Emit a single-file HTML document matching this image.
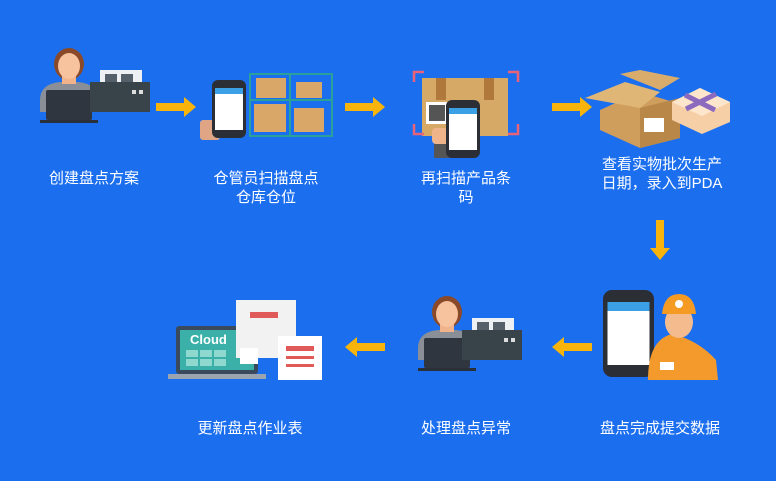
<!DOCTYPE html>
<html><head><meta charset="utf-8"><style>
html,body{margin:0;padding:0;}
body{width:776px;height:481px;background:#1b6fef;position:relative;overflow:hidden;font-family:"Liberation Sans","Noto Sans CJK SC",sans-serif;}
.t{position:absolute;color:#fff;font-size:15px;line-height:19px;text-align:center;width:160px;}
svg{position:absolute;left:0;top:0;}
</style></head><body>
<svg width="776" height="481" viewBox="0 0 776 481">
<defs>
<g id="person">
 <path d="M4 50 Q4 34 24 32 L42 32 Q62 34 62 50 L62 62 L4 62Z" fill="#8a8f97"/>
 <ellipse cx="33" cy="14" rx="15" ry="16" fill="#8a4a2a"/>
 <rect x="26" y="22" width="14" height="12" fill="#f1b38c"/>
 <ellipse cx="33" cy="16" rx="11" ry="13" fill="#f7c29e"/>
 <rect x="10" y="40" width="46" height="30" rx="2" fill="#2f3640"/>
 <rect x="4" y="70" width="58" height="3" fill="#2a3038"/>
</g>
<g id="printer">
 <rect x="10" y="0" width="42" height="22" fill="#eef1f4"/>
 <rect x="15" y="4" width="12" height="12" fill="#55606a"/><rect x="31" y="4" width="12" height="12" fill="#55606a"/>
 <rect x="0" y="12" width="60" height="30" fill="#39434a"/>
 <rect x="42" y="20" width="4" height="4" fill="#ddd"/><rect x="49" y="20" width="4" height="4" fill="#ddd"/>
</g>
<g id="arrowR"><rect x="0" y="-4" width="30" height="8" fill="#f8b40a"/><polygon points="28,-10 40,0 28,10" fill="#f8b40a"/></g>
<g id="arrowL"><rect x="10" y="-4" width="30" height="8" fill="#f8b40a"/><polygon points="12,-10 0,0 12,10" fill="#f8b40a"/></g>
<g id="phone">
 <rect x="0" y="0" width="34" height="58" rx="6" fill="#2b2f35"/>
 <rect x="3" y="8" width="28" height="42" fill="#fff"/>
 <rect x="3" y="8" width="28" height="6" fill="#3ba0e6"/>
</g>
</defs>
<!-- row1 item1 -->
<use href="#person" x="36" y="50"/>
<use href="#printer" x="90" y="70"/>
<!-- arrows row1 -->
<use href="#arrowR" x="156" y="107"/>
<use href="#arrowR" x="345" y="107"/>
<use href="#arrowR" x="552" y="107"/>
<!-- item2 -->
<g>
 <rect x="250" y="74" width="82" height="62" fill="none" stroke="#2aa09a" stroke-width="2"/>
 <line x1="290" y1="74" x2="290" y2="136" stroke="#2aa09a" stroke-width="2"/>
 <line x1="250" y1="100" x2="332" y2="100" stroke="#2aa09a" stroke-width="2"/>
 <rect x="256" y="78" width="30" height="20" fill="#d9a767"/><rect x="296" y="82" width="26" height="16" fill="#d9a767"/>
 <rect x="254" y="104" width="32" height="28" fill="#d9a767"/><rect x="294" y="108" width="30" height="24" fill="#d9a767"/>
 <rect x="200" y="120" width="20" height="20" rx="3" fill="#e0a585"/>
 <use href="#phone" x="212" y="80"/>
</g>
<!-- item3 -->
<g>
 <rect x="422" y="78" width="86" height="58" fill="#d7a967"/>
 <rect x="436" y="78" width="10" height="22" fill="#b0793b"/><rect x="484" y="78" width="10" height="22" fill="#b0793b"/>
 <rect x="426" y="102" width="22" height="22" fill="#fff"/><rect x="429" y="105" width="16" height="16" fill="#555"/>
 <path d="M414 82 V72 H424 M508 72 H518 V82 M414 124 V134 H424 M508 134 H518 V124" fill="none" stroke="#e8637a" stroke-width="2.5"/>
 <rect x="434" y="144" width="18" height="14" fill="#555"/><rect x="432" y="128" width="18" height="16" rx="4" fill="#f0b48a"/>
 <use href="#phone" x="446" y="100"/>
</g>
<!-- item4 -->
<g>
 <polygon points="600,110 640,92 680,104 680,138 640,148 600,130" fill="#cf9d5c"/>
 <polygon points="640,108 680,98 680,138 640,148" fill="#b98748"/>
 <polygon points="585,98 625,82 660,92 640,108" fill="#dfb676"/>
 <polygon points="620,74 660,90 680,78 640,70" fill="#d9ac6c"/>
 <rect x="644" y="118" width="20" height="14" fill="#fff"/>
 <g fill="#f6cfa7"><polygon points="672,102 700,88 730,102 730,122 702,134 672,120"/></g>
 <g fill="#fde6cc"><polygon points="672,102 700,88 730,102 702,116"/></g>
 <line x1="685" y1="95" x2="715" y2="110" stroke="#8c6bbf" stroke-width="5"/>
 <line x1="686" y1="109" x2="716" y2="94" stroke="#8c6bbf" stroke-width="5"/>
</g>
<!-- down arrow -->
<g transform="translate(660,220) rotate(90)"><use href="#arrowR"/></g>
<!-- row2 item: worker -->
<g>
 <use href="#phone" x="602" y="290" transform="translate(-300,-145) scale(1.5)"/>
 <path d="M648 380 Q648 340 672 334 Q698 340 716 360 L718 380Z" fill="#f49a2c"/>
 <ellipse cx="679" cy="322" rx="14" ry="16" fill="#f4bb8e"/>
 <path d="M662 314 Q664 294 679 294 Q694 294 696 314Z" fill="#f59a23"/>
 <circle cx="679" cy="304" r="4" fill="#fff"/>
 <rect x="660" y="362" width="14" height="8" fill="#fff"/>
</g>
<use href="#arrowL" x="552" y="347"/>
<use href="#arrowL" x="345" y="347"/>
<!-- row2 item2 -->
<use href="#person" x="414" y="298"/>
<use href="#printer" x="462" y="318"/>
<!-- cloud -->
<g>
 <rect x="176" y="326" width="82" height="48" rx="3" fill="#3a4a5c"/>
 <rect x="180" y="330" width="74" height="40" fill="#3ab0a8"/>
 <text x="190" y="344" font-family="Liberation Sans" font-weight="bold" font-size="13" fill="#fff">Cloud</text>
 <g fill="#8fd8d0"><rect x="186" y="350" width="12" height="7"/><rect x="200" y="350" width="12" height="7"/><rect x="214" y="350" width="12" height="7"/><rect x="186" y="359" width="12" height="7"/><rect x="200" y="359" width="12" height="7"/><rect x="214" y="359" width="12" height="7"/></g>
 <rect x="168" y="374" width="98" height="5" fill="#9aa5b0"/>
 <rect x="236" y="300" width="60" height="58" fill="#f2f2f2"/>
 <rect x="250" y="312" width="28" height="6" fill="#e15a5a"/>
 <rect x="278" y="336" width="44" height="44" fill="#fff"/>
 <rect x="286" y="346" width="28" height="5" fill="#e15a5a"/><rect x="286" y="356" width="28" height="3" fill="#e15a5a"/><rect x="286" y="364" width="28" height="3" fill="#e15a5a"/>
 <rect x="240" y="348" width="18" height="16" fill="#fff"/>
</g>
</svg>
<div class="t" style="left:14px;top:169px">创建盘点方案</div>
<div class="t" style="left:186px;top:169px">仓管员扫描盘点<br>仓库仓位</div>
<div class="t" style="left:386px;top:169px">再扫描产品条<br>码</div>
<div class="t" style="left:582px;top:155px">查看实物批次生产<br>日期，录入到PDA</div>
<div class="t" style="left:170px;top:419px">更新盘点作业表</div>
<div class="t" style="left:386px;top:419px">处理盘点异常</div>
<div class="t" style="left:580px;top:419px">盘点完成提交数据</div>
</body></html>
